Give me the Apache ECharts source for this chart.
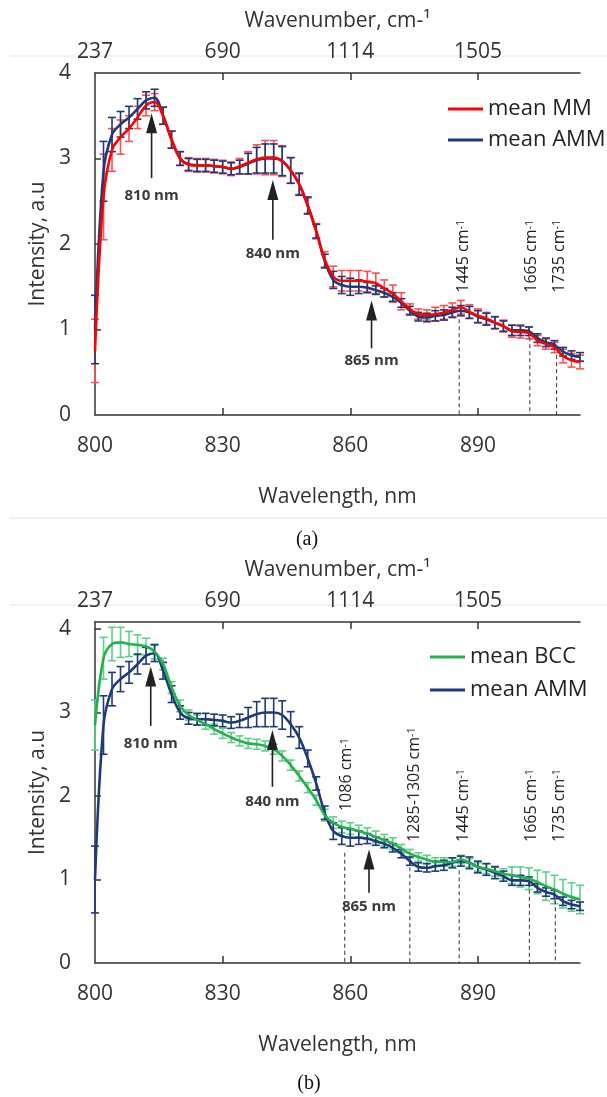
<!DOCTYPE html>
<html><head><meta charset="utf-8">
<script src="https://cdn.jsdelivr.net/npm/echarts@6/dist/echarts.min.js"></script>
<style>html,body{margin:0;padding:0;background:#fff}#c{width:607px;height:1097px}</style>
</head><body><div id="c"></div>
<script>
// ---------- data ----------
const wavelength = [800,802,804,806,808,810,812,814,816,818,820,822,824,826,828,830,832,834,836,838,840,842,844,846,848,850,852,854,856,858,860,862,864,866,868,870,872,874,876,878,880,882,884,886,888,890,892,894,896,898,900,902,904,906,908,910,912,914];
const ammMean = [1.00,2.85,3.28,3.40,3.48,3.58,3.68,3.71,3.50,3.22,
  3.00,2.93,2.92,2.92,2.91,2.90,2.88,2.90,2.94,2.98,
  3.00,3.00,2.97,2.86,2.70,2.45,2.15,1.80,1.58,1.52,
  1.50,1.50,1.49,1.46,1.43,1.38,1.31,1.22,1.15,1.14,
  1.16,1.17,1.20,1.22,1.20,1.15,1.12,1.08,1.04,0.99,
  0.99,0.98,0.90,0.85,0.82,0.74,0.70,0.68];
const ammErr = [0.40,0.35,0.20,0.15,0.13,0.12,0.10,0.10,0.10,0.10,
  0.08,0.07,0.07,0.07,0.07,0.07,0.07,0.08,0.12,0.15,
  0.17,0.17,0.17,0.15,0.13,0.10,0.08,0.08,0.10,0.10,
  0.10,0.08,0.06,0.05,0.05,0.05,0.05,0.05,0.05,0.05,
  0.06,0.06,0.06,0.06,0.07,0.07,0.07,0.07,0.06,0.06,
  0.06,0.05,0.05,0.05,0.05,0.05,0.05,0.05];
const mmMean = [0.75,2.55,3.10,3.25,3.35,3.48,3.62,3.66,3.50,3.22,
  3.00,2.93,2.92,2.92,2.91,2.90,2.88,2.91,2.95,2.99,
  3.01,3.01,2.97,2.86,2.70,2.45,2.15,1.82,1.62,1.57,
  1.57,1.57,1.56,1.54,1.48,1.42,1.33,1.24,1.18,1.17,
  1.18,1.20,1.23,1.26,1.21,1.16,1.13,1.08,1.04,0.98,
  0.97,0.96,0.87,0.83,0.79,0.69,0.64,0.62];
const mmErr = [0.37,0.50,0.25,0.20,0.15,0.13,0.12,0.10,0.10,0.10,
  0.08,0.08,0.08,0.08,0.08,0.08,0.08,0.09,0.13,0.17,
  0.20,0.20,0.18,0.15,0.12,0.09,0.09,0.09,0.12,0.12,
  0.12,0.12,0.12,0.12,0.10,0.10,0.10,0.06,0.06,0.06,
  0.08,0.08,0.08,0.08,0.08,0.08,0.07,0.07,0.07,0.07,
  0.07,0.07,0.06,0.06,0.06,0.08,0.08,0.08];
const bccMean = [2.85,3.65,3.82,3.84,3.82,3.81,3.79,3.73,3.58,3.30,
  3.08,2.97,2.91,2.86,2.80,2.75,2.70,2.66,2.63,2.62,
  2.60,2.56,2.48,2.37,2.24,2.10,1.95,1.77,1.68,1.63,
  1.61,1.58,1.55,1.51,1.47,1.43,1.37,1.31,1.27,1.24,
  1.21,1.21,1.21,1.24,1.20,1.15,1.13,1.10,1.07,1.05,
  1.03,1.01,0.97,0.92,0.88,0.83,0.79,0.76];
const bccErr = [0.30,0.25,0.20,0.18,0.15,0.12,0.10,0.09,0.07,0.07,
  0.07,0.06,0.06,0.06,0.06,0.06,0.06,0.06,0.06,0.06,
  0.06,0.06,0.06,0.06,0.06,0.06,0.06,0.07,0.07,0.07,
  0.07,0.07,0.07,0.07,0.07,0.07,0.05,0.05,0.05,0.05,
  0.05,0.05,0.05,0.05,0.05,0.05,0.06,0.06,0.06,0.10,
  0.12,0.13,0.14,0.17,0.17,0.17,0.17,0.17];
const bottomTickLabels = [800,830,860,890];
const topTickLabels = ['237','690','1114','1505'];
const yTickLabels = [0,1,2,3,4];
// annotations (data coordinates)
const arrowsA = [{x:813.3,from:2.77,to:3.53,label:'810 nm',ly:2.56},{x:841.8,from:2.05,to:2.75,label:'840 nm',ly:1.89},{x:865.0,from:0.78,to:1.34,label:'865 nm',ly:0.64}];
const arrowsB = [{x:813.1,from:2.84,to:3.55,label:'810 nm',ly:2.62},{x:841.7,from:2.11,to:2.79,label:'840 nm',ly:1.93},{x:864.4,from:0.84,to:1.36,label:'865 nm',ly:0.67}];
const bandsA = [{x:885.6,top:1.12,label:'1445',lx:886.5,ly:1.43},{x:902.2,top:0.91,label:'1665',lx:902.7,ly:1.43},{x:908.5,top:0.70,label:'1735',lx:909.1,ly:1.43}];
const bandsB = [{x:858.7,top:1.32,label:'1086',lx:859.2,ly:1.82},{x:874.0,top:1.23,label:'1285-1305',lx:875.0,ly:1.45},{x:885.6,top:1.11,label:'1445',lx:886.5,ly:1.45},{x:902.1,top:0.96,label:'1665',lx:902.7,ly:1.45},{x:908.2,top:0.75,label:'1735',lx:909.1,ly:1.45}];

// ---------- styles ----------
const FONT = '"Open Sans", sans-serif';
const TXT = '#333';
const RED = '#ff0000', RED_E = '#ff5050';
const NAVY = '#1f3a78', NAVY_E = '#1f3a78';
const GREEN = '#22b24c', GREEN_E = '#5fd08a';

function errData(m, e){ return wavelength.map((w,i)=>[w, m[i]-e[i], m[i]+e[i]]); }
function lineData(m){ return wavelength.map((w,i)=>[w, m[i]]); }
function errSeries(name, m, e, color, xi, yi, z){
  return {
    type:'custom', name:name, xAxisIndex:xi, yAxisIndex:yi, z:z, silent:true,
    data: errData(m,e), encode:{x:0, y:[1,2]},
    renderItem: function(params, api){
      const x = api.value(0);
      const p1 = api.coord([x, api.value(1)]);
      const p2 = api.coord([x, api.value(2)]);
      const w = 4, st = {stroke:color, lineWidth:1.6};
      return {type:'group', children:[
        {type:'line', shape:{x1:p1[0],y1:p1[1],x2:p2[0],y2:p2[1]}, style:st},
        {type:'line', shape:{x1:p1[0]-w,y1:p1[1],x2:p1[0]+w,y2:p1[1]}, style:st},
        {type:'line', shape:{x1:p2[0]-w,y1:p2[1],x2:p2[0]+w,y2:p2[1]}, style:st}
      ]};
    }
  };
}
function lineSeries(name, m, color, xi, yi, z){
  return {type:'line', name:name, xAxisIndex:xi, yAxisIndex:yi, z:z, data:lineData(m),
    smooth:0.35, symbol:'none', showSymbol:false, lineStyle:{color:color, width:2.6}, itemStyle:{color:color}, silent:true};
}
const axisLineStyle = {color:'#333', width:1.5};
function xBottom(grid){
  return {type:'value', gridIndex:grid, position:'bottom', min:800, max:914,
    axisLine:{show:true, onZero:false, lineStyle:axisLineStyle},
    axisTick:{show:true, inside:true, length:7, customValues:[830,860,890], lineStyle:axisLineStyle},
    axisLabel:{customValues:bottomTickLabels, margin:21, fontSize:21, fontFamily:FONT, color:TXT},
    splitLine:{show:false},
    name:'Wavelength, nm', nameLocation:'middle', nameGap:72,
    nameTextStyle:{fontSize:21, fontFamily:FONT, color:TXT}};
}
function xTop(grid){
  return {type:'value', gridIndex:grid, position:'top', min:800, max:914,
    axisLine:{show:true, onZero:false, lineStyle:axisLineStyle},
    axisTick:{show:true, inside:true, length:7, customValues:[830,860,890], lineStyle:axisLineStyle},
    axisLabel:{customValues:bottomTickLabels, margin:10, fontSize:21, fontFamily:FONT, color:TXT,
      formatter:function(v){ const i = bottomTickLabels.indexOf(Math.round(v)); return i>=0 ? topTickLabels[i] : ''; }},
    splitLine:{show:false},
    name:'Wavenumber, cm-\u00b9', nameLocation:'middle', nameGap:41,
    nameTextStyle:{fontSize:21, fontFamily:FONT, color:TXT}};
}
function yAx(grid, max, ticks){
  return {type:'value', gridIndex:grid, min:0, max:max,
    axisLine:{show:true, onZero:false, lineStyle:axisLineStyle},
    axisTick:{show:true, inside:true, length:6, customValues:ticks, lineStyle:axisLineStyle},
    axisLabel:{customValues:yTickLabels, margin:24, fontSize:21, fontFamily:FONT, color:TXT},
    splitLine:{show:false},
    name:'Intensity, a.u', nameLocation:'middle', nameGap:46,
    nameTextStyle:{fontSize:21, fontFamily:FONT, color:TXT}};
}
function legend(names, left, top, gap){
  return {data:names, orient:'vertical', left:left, top:top, itemWidth:35, itemHeight:3, itemGap:gap,
    icon:'rect', selectedMode:false, padding:0,
    textStyle:{fontSize:22, fontFamily:FONT, color:'#222', lineHeight:24}};
}

const chart = echarts.init(document.getElementById('c'), null, {renderer:'canvas'});
chart.setOption({
  animation:false,
  backgroundColor:'#fff',
  grid:[
    {left:95, top:73, width:485, height:342, outerBoundsMode:'none', containLabel:false},
    {left:95, top:622, width:485, height:341, outerBoundsMode:'none', containLabel:false}
  ],
  xAxis:[xBottom(0), xTop(0), xBottom(1), xTop(1)],
  yAxis:[yAx(0, 4, [1,2,3]), yAx(1, 4*341/334, [1,2,3,4])],
  legend:[legend(['mean MM','mean AMM'], 448, 97, 7), legend(['mean BCC','mean AMM'], 430, 645, 9)],
  series:[
    errSeries('MM err', mmMean, mmErr, RED_E, 0, 0, 2),
    errSeries('AMM err a', ammMean, ammErr, NAVY_E, 0, 0, 3),
    lineSeries('mean AMM', ammMean, NAVY, 0, 0, 4),
    lineSeries('mean MM', mmMean, RED, 0, 0, 5),
    errSeries('BCC err', bccMean, bccErr, GREEN_E, 2, 1, 2),
    errSeries('AMM err b', ammMean, ammErr, NAVY_E, 2, 1, 3),
    lineSeries('mean AMM', ammMean, NAVY, 2, 1, 4),
    lineSeries('mean BCC', bccMean, GREEN, 2, 1, 5)
  ]
});

// ---------- annotations via the chart's own scales ----------
function P(xi, yi, x, y){ return chart.convertToPixel({xAxisIndex:xi, yAxisIndex:yi}, [x, y]); }
const g = [];
function addArrows(list, xi, yi){
  list.forEach(a=>{
    const b = P(xi, yi, a.x, a.from), t = P(xi, yi, a.x, a.to), l = P(xi, yi, a.x, a.ly);
    const head = 20, hw = 5.5;
    g.push({type:'line', shape:{x1:b[0],y1:b[1],x2:t[0],y2:t[1]+head-2}, style:{stroke:'#222', lineWidth:1.6}, z:20});
    g.push({type:'polygon', shape:{points:[[t[0],t[1]],[t[0]-hw,t[1]+head],[t[0]+hw,t[1]+head]]}, style:{fill:'#222'}, z:20});
    g.push({type:'text', x:l[0], y:l[1], z:20, style:{text:a.label, fontSize:15, fontWeight:'bold', fontFamily:FONT, fill:'#3a3a3a', align:'center', verticalAlign:'middle'}});
  });
}
function addBands(list, xi, yi){
  list.forEach(d=>{
    const t = P(xi, yi, d.x, d.top), b = P(xi, yi, d.x, 0), l = P(xi, yi, d.lx, d.ly);
    g.push({type:'line', shape:{x1:t[0],y1:t[1],x2:b[0],y2:b[1]}, style:{stroke:'#333', lineWidth:1, lineDash:[4,3]}, z:19});
    g.push({type:'text', x:l[0], y:l[1], rotation:Math.PI/2, z:20,
      style:{text:d.label+' cm{s|-1}', fontSize:16, fontFamily:FONT, fill:'#222', align:'left', verticalAlign:'middle',
        rich:{s:{fontSize:11, fontFamily:FONT, fill:'#222', verticalAlign:'top'}}}});
  });
}
addArrows(arrowsA, 0, 0); addArrows(arrowsB, 2, 1);
addBands(bandsA, 0, 0); addBands(bandsB, 2, 1);
// panel frame lines and captions
g.push({type:'line', shape:{x1:10,y1:56,x2:607,y2:56}, style:{stroke:'#e4e4e4', lineWidth:1}, z:0});
g.push({type:'line', shape:{x1:10,y1:518,x2:607,y2:518}, style:{stroke:'#e4e4e4', lineWidth:1}, z:0});
g.push({type:'line', shape:{x1:10,y1:605,x2:607,y2:605}, style:{stroke:'#e4e4e4', lineWidth:1}, z:0});
g.push({type:'text', x:307, y:540, style:{text:'(a)', fontSize:20, fontFamily:'"Liberation Serif", serif', fill:'#111', align:'center', verticalAlign:'middle'}});
g.push({type:'text', x:309, y:1084, style:{text:'(b)', fontSize:20, fontFamily:'"Liberation Serif", serif', fill:'#111', align:'center', verticalAlign:'middle'}});
chart.setOption({graphic:g});
</script>
</body></html>
